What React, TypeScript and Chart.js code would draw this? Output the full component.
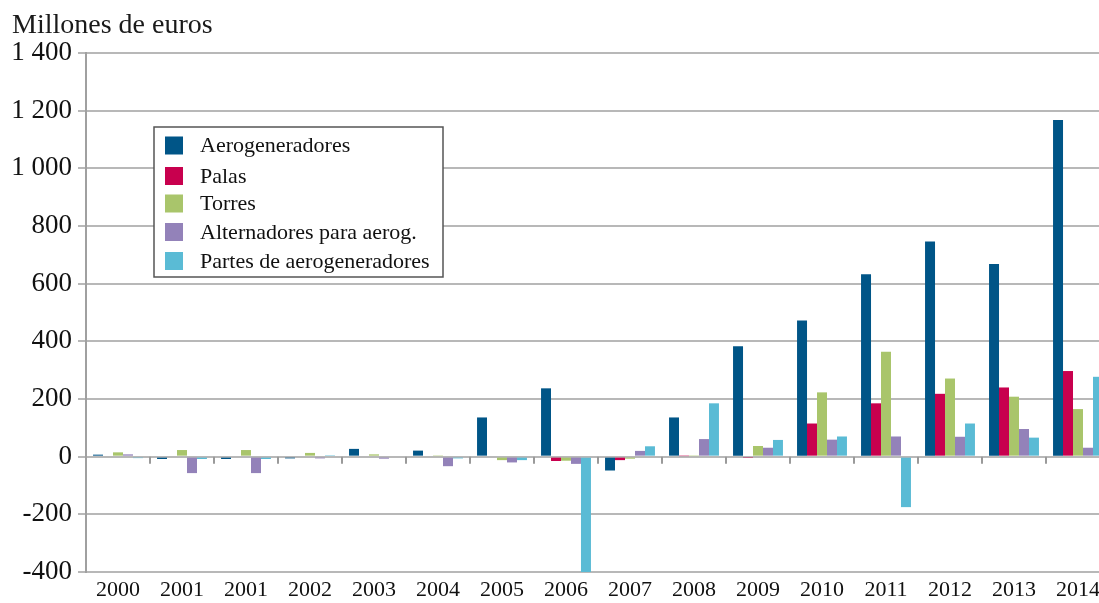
import React, { useEffect, useRef } from "react";
import { Chart, registerables } from "chart.js";

Chart.register(...registerables);

const categories = ["2000", "2001", "2001", "2002", "2003", "2004", "2005", "2006", "2007", "2008", "2009", "2010", "2011", "2012", "2013", "2014"];
const aerogeneradores = [7, -8, -8, -6, 27, 21, 136, 237, -48, 136, 383, 472, 633, 746, 668, 1168];
const palas = [0, 0, 0, 0, 0, 0, 0, -15, -12, 2, -2, 115, 185, 218, 240, 297];
const torres = [15, 23, 23, 13, 8, 2, -12, -14, -7, 2, 37, 223, 364, 271, 208, 165];
const alternadores = [8, -57, -57, -6, -7, -33, -20, -25, 20, 61, 31, 59, 70, 69, 96, 31];
const partes = [-5, -8, -8, 5, 0, -6, -12, -400, 36, 185, 58, 70, -175, 115, 66, 277];

const seriesNames = ["Aerogeneradores", "Palas", "Torres", "Alternadores para aerog.", "Partes de aerogeneradores"];
const seriesColors = ["#005587", "#C8004E", "#A9C56B", "#9382B9", "#5ABBD5"];
const yTickValues = [-400, -200, 0, 200, 400, 600, 800, 1000, 1200, 1400];
const titleText = "Millones de euros";

const SERIF = "'Liberation Serif', 'Times New Roman', serif";

function fmt(v: number): string {
  const neg = v < 0;
  const s = Math.abs(v).toString().replace(/\B(?=(\d{3})+(?!\d))/g, " ");
  return (neg ? "-" : "") + s;
}

const overlayPlugin = {
  id: "overlay",
  afterDraw(chart: any) {
    const ctx = chart.ctx;
    const x = chart.scales.x;
    const y = chart.scales.y;
    ctx.save();
    // category boundary tick marks on the zero line
    const y0 = y.getPixelForValue(0);
    ctx.strokeStyle = "#9a9a9a";
    ctx.lineWidth = 2;
    for (let i = 1; i < categories.length; i++) {
      const px = Math.round((x.getPixelForValue(i - 1) + x.getPixelForValue(i)) / 2);
      ctx.beginPath();
      ctx.moveTo(px, y0);
      ctx.lineTo(px, y0 + 7);
      ctx.stroke();
    }
    // title
    ctx.fillStyle = "#1a1a1a";
    ctx.font = `28px ${SERIF}`;
    ctx.textAlign = "left";
    ctx.textBaseline = "alphabetic";
    ctx.fillText(titleText, 12, 33);
    // legend
    const bx = 154, by = 127, bw = 289, bh = 150;
    ctx.fillStyle = "#ffffff";
    ctx.fillRect(bx, by, bw, bh);
    ctx.strokeStyle = "#555555";
    ctx.lineWidth = 1.5;
    ctx.strokeRect(bx, by, bw, bh);
    const rows = [145.5, 176, 203.5, 232, 261];
    ctx.font = `22px ${SERIF}`;
    ctx.textBaseline = "middle";
    chart.data.datasets.forEach((ds: any, i: number) => {
      const cy = rows[i];
      ctx.fillStyle = ds.backgroundColor;
      ctx.fillRect(165, cy - 9, 18, 18);
      ctx.fillStyle = "#111111";
      ctx.fillText(ds.label, 200, cy + 1);
    });
    ctx.restore();
  },
};

export default function App() {
  const ref = useRef<HTMLCanvasElement>(null);
  useEffect(() => {
    if (!ref.current) return;
    const series = [aerogeneradores, palas, torres, alternadores, partes];
    const chart = new Chart(ref.current, {
      type: "bar",
      data: {
        labels: categories,
        datasets: series.map((d, i) => ({
          label: seriesNames[i],
          data: d,
          backgroundColor: seriesColors[i],
          borderWidth: 0,
          barPercentage: 1,
          categoryPercentage: 0.78,
        })),
      },
      options: {
        animation: false,
        responsive: false,
        devicePixelRatio: 1,
        layout: { padding: { top: 53, left: 0, right: 10, bottom: 0 } },
        plugins: {
          legend: { display: false },
          title: { display: false },
          tooltip: { enabled: false },
        },
        scales: {
          x: {
            offset: true,
            grid: { display: false, drawTicks: false },
            border: { display: false },
            ticks: {
              font: { family: SERIF, size: 22 },
              color: "#111111",
              padding: 5,
              maxRotation: 0,
              autoSkip: false,
            },
            afterFit: (scale: any) => {
              scale.height = 31;
            },
          },
          y: {
            min: -400,
            max: 1400,
            afterBuildTicks: (scale: any) => {
              scale.ticks = yTickValues.map((v) => ({ value: v }));
            },
            grid: { color: "#b8b8b8", lineWidth: 2, tickLength: 8, drawTicks: true },
            border: { display: true, color: "#a0a0a0", width: 2 },
            ticks: {
              font: { family: SERIF, size: 27 },
              color: "#111111",
              padding: 6,
              callback: (v: any) => fmt(Number(v)),
            },
            afterFit: (scale: any) => {
              scale.width = 86;
            },
          },
        },
      },
      plugins: [overlayPlugin],
    });
    return () => chart.destroy();
  }, []);
  return (
    <div style={{ position: "fixed", left: 0, top: 0, width: 1099, height: 603, overflow: "hidden", background: "#fff" }}>
      <canvas ref={ref} width={1120} height={603} style={{ width: 1120, height: 603, display: "block" }} />
    </div>
  );
}
